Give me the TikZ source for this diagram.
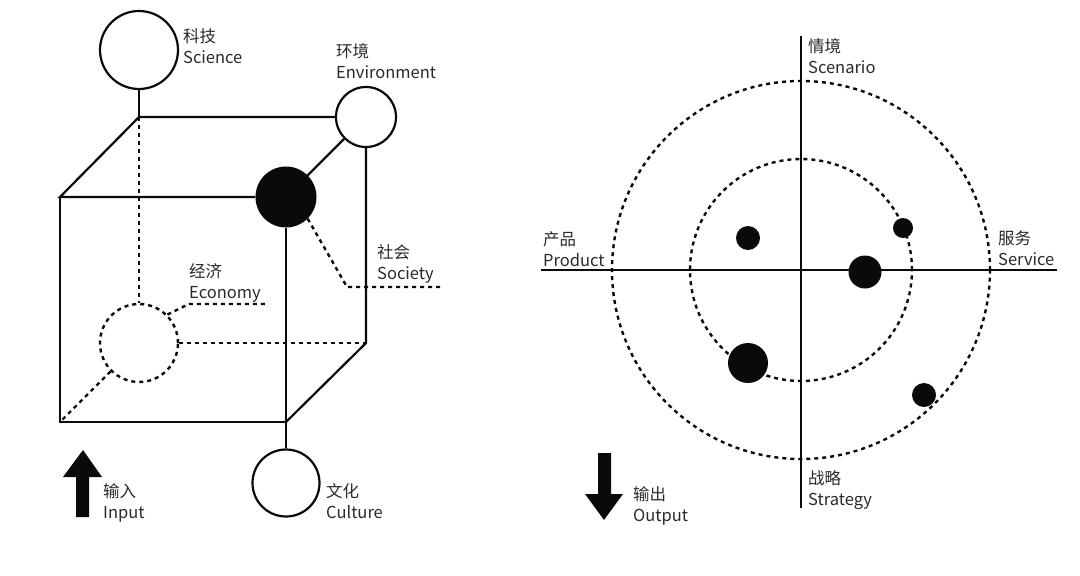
\documentclass[tikz,border=0pt]{standalone}
\usepackage{fontspec}
\setmainfont{Noto Sans CJK SC}
\definecolor{txt}{HTML}{2A2A2A}
\definecolor{ink}{HTML}{0A0A0A}
\begin{document}
\begin{tikzpicture}[x=1pt,y=-1pt,
  edge/.style={line width=2.2pt, draw=ink},
  dashedge/.style={line width=2.4pt, draw=ink, dash pattern=on 4pt off 4pt},
  ring/.style={circle, draw=ink, line width=2.2pt, fill=white, inner sep=0pt, minimum size=#1},
  dashring/.style={circle, draw=ink, line width=2.4pt, dash pattern=on 4pt off 4pt, inner sep=0pt, minimum size=#1},
  blob/.style={circle, fill=ink, inner sep=0pt, minimum size=#1},
  lbl/.style={align=left, anchor=base west, inner sep=0pt, text=txt, font=\fontsize{16.5}{20.5}\selectfont},
  bigarrow/.style={fill=ink}
]
\useasboundingbox (0,0) rectangle (1080,576);
\fill[white] (0,0) rectangle (1080,576);

% ---------- left: cube ----------
\coordinate (ftl) at (60,197);
\coordinate (fbl) at (60,422);
\coordinate (fbr) at (286,422);
\coordinate (btl) at (139,117);
\coordinate (bbr) at (366,343);
\coordinate (ecoknee) at (189,304);
\coordinate (ecoend) at (267,304);
\coordinate (socknee) at (347,287);
\coordinate (socend) at (443,287);

\node[dashring=78pt] (eco) at (139,343) {};
\draw[dashedge] (btl) -- (eco);
\draw[dashedge] (eco) -- (bbr);
\draw[dashedge] (eco) -- (fbl);
\draw[dashedge] (eco.45) -- (ecoknee) -- (ecoend);

\node[ring=78pt] (sci) at (139,50) {};
\node[ring=60pt] (env) at (366,117) {};
\node[blob=61pt] (soc) at (286,197) {};
\node[ring=67pt] (cul) at (286,483) {};

\draw[edge] (sci) -- (btl);
\draw[edge] (soc) -- (ftl) -- (btl) -- (env);
\draw[edge, line join=miter] (soc) -- (ftl) -- (fbl) -- (fbr) -- (soc);
\draw[edge] (soc) -- (env);
\draw[edge] (env) -- (bbr) -- (fbr);
\draw[edge] (cul) -- (fbr);
\draw[dashedge] (soc.-45) -- (socknee) -- (socend);

\node[lbl] (lsci) at (183,63) {科技\\Science};
\node[lbl] (lenv) at (336,78) {环境\\Environment};
\node[lbl] (leco) at (189,298) {经济\\Economy};
\node[lbl] (lsoc) at (377,279) {社会\\Society};
\node[lbl] (lcul) at (326,518) {文化\\Culture};
\node[lbl] (lin) at (103,518) {输入\\Input};

\fill[bigarrow] (76,517) -- (76,477) -- (63,477) -- (83,450) -- (102,477) -- (89,477) -- (89,517) -- cycle;

% ---------- right: radar ----------
\coordinate (o) at (801,270);
\coordinate (axL) at (541,270);
\coordinate (axR) at (1057,270);
\coordinate (axT) at (801,36);
\coordinate (axB) at (801,508);

\node[dashring=378pt] (outer) at (o) {};
\node[dashring=222pt] (inner) at (o) {};
\draw[edge] (axL) -- (axR);
\draw[edge] (axT) -- (axB);

\node[blob=24pt] (d1) at (748,238) {};
\node[blob=20pt] (d2) at (903,228) {};
\node[blob=33pt] (d3) at (865,272) {};
\node[blob=40pt] (d4) at (748,363) {};
\node[blob=24pt] (d5) at (924,395) {};

\node[lbl] (lsce) at (808,73) {情境\\Scenario};
\node[lbl] (lser) at (998,265) {服务\\Service};
\node[lbl] (lpro) at (543,266) {产品\\Product};
\node[lbl] (lstr) at (808,505) {战略\\Strategy};
\node[lbl] (lout) at (633,521) {输出\\Output};

\fill[bigarrow] (598,453) -- (611,453) -- (611,494) -- (623,494) -- (604,520) -- (585,494) -- (598,494) -- cycle;
\end{tikzpicture}
\end{document}
